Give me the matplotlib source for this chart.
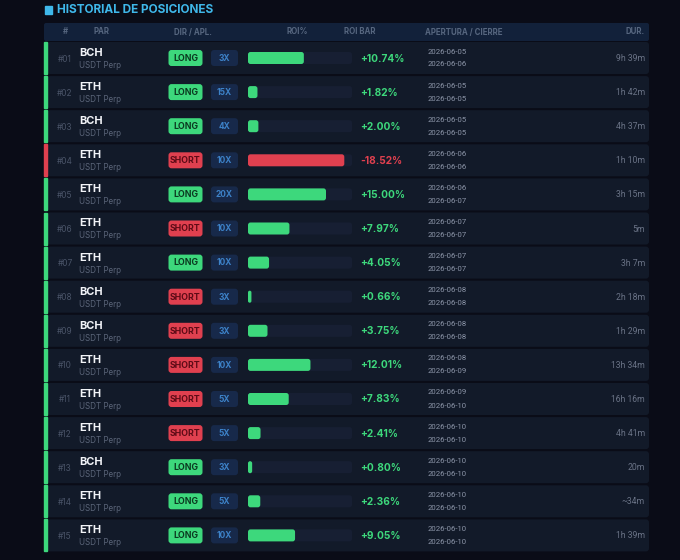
import matplotlib.pyplot as plt
from matplotlib.patches import FancyBboxPatch, Rectangle

plt.rcParams['font.family'] = ['Inter', 'DejaVu Sans']

# table data
ids = ['#01', '#02', '#03', '#04', '#05', '#06', '#07', '#08',
       '#09', '#10', '#11', '#12', '#13', '#14', '#15']
coins = ['BCH', 'ETH', 'BCH', 'ETH', 'ETH', 'ETH', 'ETH', 'BCH',
         'BCH', 'ETH', 'ETH', 'ETH', 'BCH', 'ETH', 'ETH']
sides = ['LONG', 'LONG', 'LONG', 'SHORT', 'LONG', 'SHORT', 'LONG', 'SHORT',
         'SHORT', 'SHORT', 'SHORT', 'SHORT', 'LONG', 'LONG', 'LONG']
leverage = ['3X', '15X', '4X', '10X', '20X', '10X', '10X', '3X',
            '3X', '10X', '5X', '5X', '3X', '5X', '10X']
roi = [10.74, 1.82, 2.00, -18.52, 15.00, 7.97, 4.05, 0.66,
       3.75, 12.01, 7.83, 2.41, 0.80, 2.36, 9.05]
opened = ['2026-06-05', '2026-06-05', '2026-06-05', '2026-06-06', '2026-06-06',
          '2026-06-07', '2026-06-07', '2026-06-08', '2026-06-08', '2026-06-08',
          '2026-06-09', '2026-06-10', '2026-06-10', '2026-06-10', '2026-06-10']
closed = ['2026-06-06', '2026-06-05', '2026-06-05', '2026-06-06', '2026-06-07',
          '2026-06-07', '2026-06-07', '2026-06-08', '2026-06-08', '2026-06-09',
          '2026-06-10', '2026-06-10', '2026-06-10', '2026-06-10', '2026-06-10']
durations = ['9h 39m', '1h 42m', '4h 37m', '1h 10m', '3h 15m', '5m', '3h 7m',
             '2h 18m', '1h 29m', '13h 34m', '16h 16m', '4h 41m', '20m', '~34m',
             '1h 39m']
headers = ['#', 'PAR', 'DIR / APL.', 'ROI%', 'ROI BAR', 'APERTURA / CIERRE', 'DUR.']

roi_max = 20.0

BG = '#0a0c17'
ROW = '#121a29'
HEAD = '#12213a'
GREEN = '#3dd87c'
RED = '#e0404f'

fig = plt.figure(figsize=(6.8, 5.6), dpi=100, facecolor=BG)
ax = fig.add_axes([0, 0, 1, 1])
ax.set_xlim(0, 680)
ax.set_ylim(560, 0)
ax.axis('off')

# title
ax.add_patch(Rectangle((45, 5.5), 7, 8, color='#3fb8ea'))
ax.text(57, 9.8, 'HISTORIAL DE POSICIONES', color='#3fb8ea', fontsize=8.5,
        fontweight='bold', va='center', ha='left')

# header band
ax.add_patch(FancyBboxPatch((44, 23), 605, 18, boxstyle='round,pad=0,rounding_size=2',
                            fc=HEAD, ec='none'))
hx = [65, 102, 193, 297, 360, 425, 645]
ha = ['center', 'center', 'center', 'center', 'center', 'left', 'right']
for x, h, a in zip(hx, headers, ha):
    ax.text(x, 32, h, color='#56667f', fontsize=5.7, fontweight='bold',
            va='center', ha=a)

row_top = 42
pitch = 34.1
row_h = 32
track_x, track_w = 248, 104

for i in range(len(ids)):
    y0 = row_top + i * pitch
    cy = y0 + row_h / 2
    pos = roi[i] >= 0
    col = GREEN if pos else RED

    ax.add_patch(FancyBboxPatch((47, y0), 602, row_h, boxstyle='round,pad=0,rounding_size=3',
                                fc=ROW, ec='none'))
    ax.add_patch(Rectangle((44, y0), 3.2, row_h, color=col))

    ax.text(65, cy + 1, ids[i], color='#4a5468', fontsize=6.0, va='center', ha='center')
    ax.text(79, cy - 5, coins[i], color='#f2f4f8', fontsize=7.9, fontweight='bold',
            va='center', ha='left')
    ax.text(79, cy + 7.5, 'USDT Perp', color='#5a6478', fontsize=5.8,
            va='center', ha='left')

    # side badge
    long_side = sides[i] == 'LONG'
    ax.add_patch(FancyBboxPatch((168.5, cy - 8), 34, 16, boxstyle='round,pad=0,rounding_size=3',
                                fc=GREEN if long_side else RED, ec='none'))
    ax.text(185.5, cy + 0.3, sides[i], color='#0b3a20' if long_side else '#5e0b16',
            fontsize=6.3, fontweight='bold', va='center', ha='center')

    # leverage badge
    ax.add_patch(FancyBboxPatch((211, cy - 8), 27, 16, boxstyle='round,pad=0,rounding_size=3',
                                fc='#17294a', ec='none'))
    ax.text(224.5, cy + 0.3, leverage[i], color='#3d82c8', fontsize=6.0,
            fontweight='bold', va='center', ha='center')

    # roi bar
    ax.add_patch(FancyBboxPatch((track_x, cy - 6), track_w, 12,
                                boxstyle='round,pad=0,rounding_size=2.5',
                                fc='#171f33', ec='none'))
    bw = max(abs(roi[i]) / roi_max * track_w, 2.5)
    ax.add_patch(FancyBboxPatch((track_x, cy - 6), bw, 12,
                                boxstyle='round,pad=0,rounding_size=%.2f' % min(2.5, bw / 2),
                                fc=col, ec='none'))

    ax.text(360, cy + 0.5, '%+.2f%%' % roi[i], color=col, fontsize=7.3,
            fontweight='bold', va='center', ha='left')

    ax.text(428, cy - 6.5, opened[i], color='#8c95a8', fontsize=5.6,
            family='Roboto', va='center', ha='left')
    ax.text(428, cy + 6.5, closed[i], color='#8c95a8', fontsize=5.6,
            family='Roboto', va='center', ha='left')

    ax.text(645, cy + 0.5, durations[i], color='#6a7386', fontsize=6.2,
            family='Roboto', va='center', ha='right')

fig.savefig('out.png', dpi=100, facecolor=BG)
